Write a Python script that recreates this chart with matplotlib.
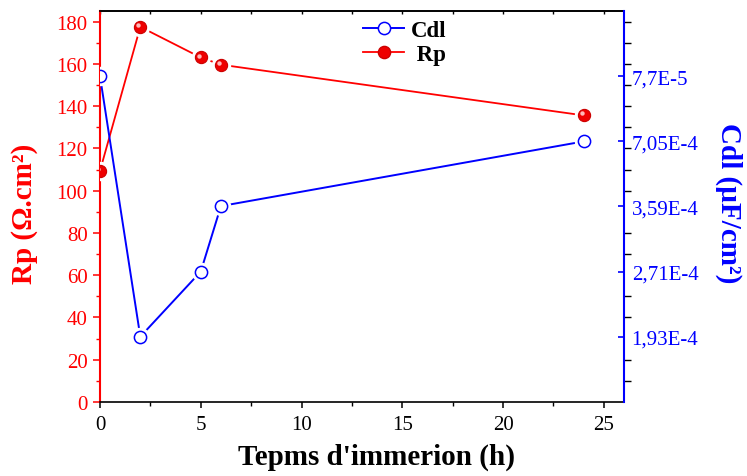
import matplotlib
matplotlib.use("Agg")
import matplotlib.pyplot as plt
import matplotlib.transforms as mtransforms
from matplotlib.lines import Line2D
from matplotlib.ticker import MultipleLocator, FixedLocator

# data
hours = [0, 2, 5, 6, 24]
rp = [109.4, 177.5, 163.0, 159.6, 135.6]
# Cdl is drawn on the right axis at these heights, with its own text labels
cdl_pos = [154.1, 30.9, 61.7, 92.7, 123.3]
cdl_labels = ["7,7E-5", "1,93E-4", "2,71E-4", "3,59E-4", "7,05E-4"]
right_minor = [10, 20, 40, 50, 70, 80, 100, 110, 120, 130, 140, 150, 160, 170, 180]

plt.rcParams["font.family"] = ["Liberation Serif", "DejaVu Serif"]

fig = plt.figure(figsize=(7.47, 4.77), dpi=100)
ax = fig.add_axes([100 / 747, 74 / 477, 524 / 747, 391 / 477])
ax2 = ax.twinx()

# Rp (left axis): line, white gap ring, red ball, small highlight
ax.plot(hours, rp, color="red", lw=1.3, zorder=2)
ax.plot(hours, rp, ls="none", marker="o", ms=13, mfc="white", mec="white", zorder=3)
ax.plot(hours, rp, ls="none", marker="o", ms=8.8, mfc="#ee0000", mec="#cc0000", mew=0.8, zorder=4)
shine = mtransforms.offset_copy(ax.transData, fig=fig, x=-1.4, y=1.4, units="points")
ax.plot(hours, rp, ls="none", marker="o", ms=3.2, mfc="#ffb8b8", mec="none",
        transform=shine, zorder=5)

# Cdl (right axis): open circles
ax2.plot(hours, cdl_pos, color="blue", lw=1.4, zorder=2)
ax2.plot(hours, cdl_pos, ls="none", marker="o", ms=13, mfc="white", mec="white", zorder=3)
ax2.plot(hours, cdl_pos, ls="none", marker="o", ms=8.8, mfc="white", mec="blue", mew=1.1, zorder=4)

ax.set_xlim(0, 26)
ax.set_ylim(0, 185)
ax2.set_ylim(0, 185)

# left axis
ax.yaxis.set_major_locator(MultipleLocator(20))
ax.yaxis.set_minor_locator(MultipleLocator(10))
ax.tick_params(axis="y", which="major", direction="out", length=5, width=1.1,
               colors="red", labelsize=15, pad=4)
ax.tick_params(axis="y", which="minor", direction="out", length=3, width=1.0, colors="red")

# bottom axis
ax.xaxis.set_major_locator(MultipleLocator(5))
ax.xaxis.set_minor_locator(MultipleLocator(2.5))
ax.tick_params(axis="x", which="major", direction="out", length=4.5, width=1.1,
               colors="black", labelsize=15, pad=5)
ax.tick_params(axis="x", which="minor", direction="out", length=3, width=1.0)

# top axis: small inward ticks only
top = ax.secondary_xaxis("top")
top.xaxis.set_major_locator(MultipleLocator(2.5))
top.tick_params(direction="in", length=2.5, width=1.0, labeltop=False)
top.spines["top"].set_linewidth(1.2)

# right axis: blue labelled ticks at the Cdl points, black minor ticks outside
ax2.set_yticks(cdl_pos, cdl_labels)
ax2.yaxis.set_minor_locator(FixedLocator(right_minor))
ax2.tick_params(axis="y", which="major", direction="in", length=4.5, width=1.2,
                colors="blue", labelsize=15, pad=5.5)
ax2.tick_params(axis="y", which="minor", direction="out", length=5, width=1.0, colors="black")

for s in ["top", "bottom"]:
    ax.spines[s].set_linewidth(1.2)
ax.spines["left"].set_color("red")
ax.spines["left"].set_linewidth(1.5)
ax.spines["right"].set_visible(False)
for s in ["left", "top", "bottom"]:
    ax2.spines[s].set_visible(False)
ax2.spines["right"].set_color("blue")
ax2.spines["right"].set_linewidth(1.5)

ax.set_xlabel("Tepms d'immerion (h)", fontsize=21, fontweight="bold")
ax.xaxis.set_label_coords(0.528, -0.105)
ax.set_ylabel("Rp (Ω.cm²)", fontsize=21, fontweight="bold", color="red")
ax.yaxis.set_label_coords(-0.118, 0.483)
ax2.set_ylabel("Cdl (µF/cm²)", fontsize=21, fontweight="bold", color="blue",
               rotation=270, va="center", ha="center")
ax2.yaxis.set_label_coords(1.2, 0.51)

handles = [
    Line2D([], [], color="blue", lw=1.4, marker="o", ms=8.8, mfc="white", mec="blue", mew=1.1),
    Line2D([], [], color="red", lw=1.3, marker="o", ms=8.8, mfc="#ee0000", mec="#cc0000"),
]
ax2.legend(handles, ["Cdl", " Rp"], loc="upper left", bbox_to_anchor=(0.493, 0.99),
           frameon=False, prop={"weight": "bold", "size": 16.5},
           handlelength=1.8, handletextpad=0.3, labelspacing=0.15,
           borderpad=0.2, borderaxespad=0)

fig.savefig("out.png", dpi=100)
